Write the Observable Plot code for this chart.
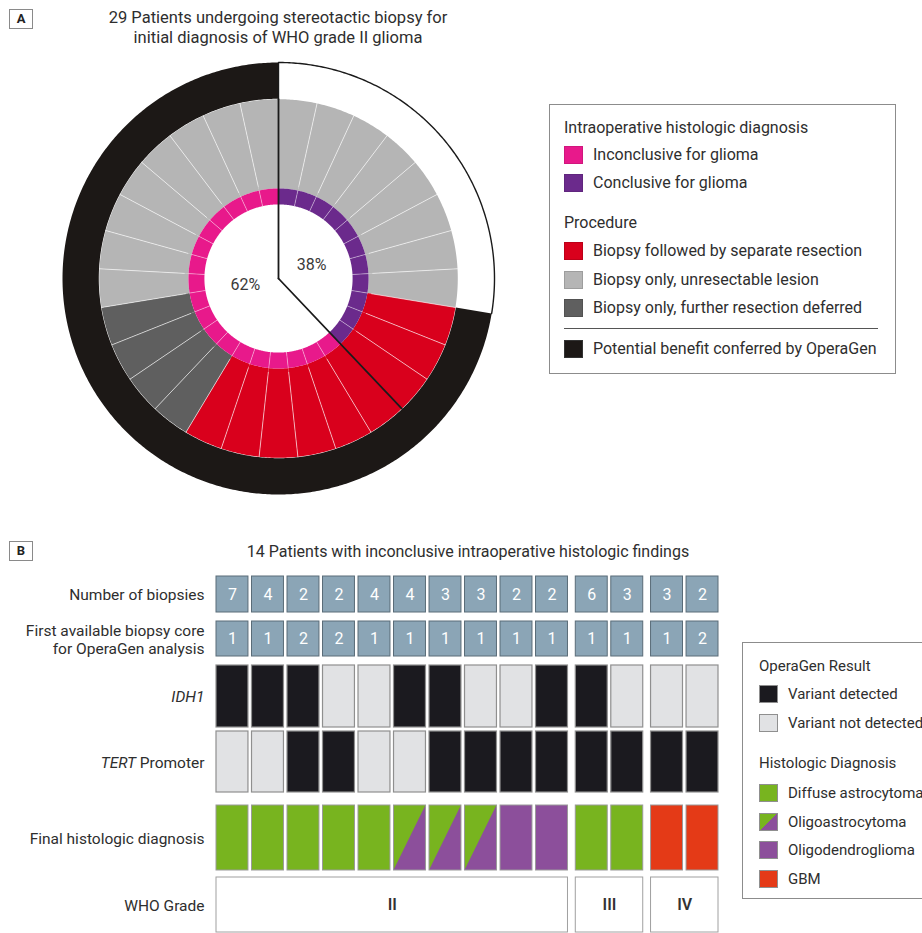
<!DOCTYPE html>
<html><head><meta charset="utf-8">
<script src="https://cdn.jsdelivr.net/npm/d3@7"></script>
<script src="https://cdn.jsdelivr.net/npm/@observablehq/plot@0.6"></script>
<style>
body{margin:0;background:#fff;font-family:Roboto,"Open Sans",sans-serif;color:#2e2e2e}
#page{position:relative;width:922px;height:933px;overflow:hidden;background:#fff}
.abs{position:absolute}
.tag{position:absolute;width:22px;height:18px;border:1px solid #8a8a8a;font:bold 13px Roboto,sans-serif;text-align:center;line-height:18px;color:#222}
.title{position:absolute;text-align:center;line-height:20px;color:#2e2e2e}
.legend{position:absolute;border:1px solid #8c8c8c;background:#fff}
.li{position:absolute;line-height:20px;height:20px;white-space:nowrap;color:#2e2e2e}
#legendA .li{font-size:16px}
#legendB .li{font-size:15px}
.sw{position:absolute;width:19px;height:18px;box-sizing:border-box}
.rule{position:absolute;height:0;border-top:1.5px solid #555}
</style>
</head><body>
<div id="page">
  <div class="tag" style="left:9px;top:9px">A</div>
  <div class="title" style="left:0;width:556px;top:8px;font-size:16.5px">29 Patients undergoing stereotactic biopsy for<br>initial diagnosis of WHO grade II glioma</div>
  <div id="chartA" class="abs" style="left:0;top:50px"></div>
  <div id="legendA" class="legend" style="left:549px;top:104px;width:345px;height:268px"></div>
  <div class="tag" style="left:9px;top:541px">B</div>
  <div class="title" style="left:168px;width:600px;top:542px;font-size:16px">14 Patients with inconclusive intraoperative histologic findings</div>
  <div id="chartB" class="abs" style="left:0;top:570px"></div>
  <div id="legendB" class="legend" style="left:742px;top:642px;width:220px;height:255px"></div>
</div>
<script>
// ---------------- Panel A data (29 patients, clockwise from 12 o'clock) ----------------
const intraop = ["C","C","C","C","C","C","C","C","C","C","C",
                 "I","I","I","I","I","I","I","I","I","I","I","I","I","I","I","I","I","I"];
const procedure = ["U","U","U","U","U","U","U","U",
                   "R","R","R","R","R","R","R","R","R",
                   "D","D","D","D",
                   "U","U","U","U","U","U","U","U"];
const benefit = [0,0,0,0,0,0,0,0,
                 1,1,1,1,1,1,1,1,1,1,1,1,1,1,1,1,1,1,1,1,1];

const intraopCats = ["I","C"];
const intraopLabels = ["Inconclusive for glioma","Conclusive for glioma"];
const intraopColors = ["#e8198b","#6b2a8c"];
const procCats = ["R","U","D"];
const procLabels = ["Biopsy followed by separate resection","Biopsy only, unresectable lesion","Biopsy only, further resection deferred"];
const procColors = ["#d9001c","#b5b5b5","#5f5f5f"];
const benefitLabel = "Potential benefit conferred by OperaGen";
const benefitColor = "#1c1816";

// ---------------- Panel B data (14 patients) ----------------
const biopsies  = [7,4,2,2,4,4,3,3,2,2,6,3,3,2];
const firstCore = [1,1,2,2,1,1,1,1,1,1,1,1,1,2];
const idh1      = [1,1,1,0,0,1,1,0,0,1,1,0,0,0];
const tert      = [0,0,1,1,0,0,1,1,1,1,1,1,1,1];
const diagnosis = ["DA","DA","DA","DA","DA","OA","OA","OA","OD","OD","DA","DA","GBM","GBM"];
const grade     = ["II","II","II","II","II","II","II","II","II","II","III","III","IV","IV"];

const gradeOrder = ["II","III","IV"];
const resultLabels = ["Variant detected","Variant not detected"];
const resultColors = ["#1b1a1f","#e1e2e4"];
const dxCats = ["DA","OA","OD","GBM"];
const dxLabels = ["Diffuse astrocytoma","Oligoastrocytoma","Oligodendroglioma","GBM"];
const dxColors = ["#78b41f","#78b41f","#8c4f9b","#e43a17"];
const oaSecond = "#8c4f9b";
const rowLabels = ["Number of biopsies","First available biopsy core\nfor OperaGen analysis","IDH1","TERT Promoter","Final histologic diagnosis","WHO Grade"];

// ---------------- Panel A layout ----------------
const N = procedure.length;
const step = 2 * Math.PI / N;
const RAD = {ringIn: 0.343, ringOut: 0.417, wedgeIn: 0.417, wedgeOut: 0.83, benIn: 0.832, benOut: 1};
const pt = (a, r) => [r * Math.sin(a), r * Math.cos(a)];
function arcPts(a0, a1, r) {
  const n = Math.max(2, Math.ceil(Math.abs(a1 - a0) / 0.01));
  return d3.range(n + 1).map(i => pt(a0 + (a1 - a0) * i / n, r));
}
function sector(a0, a1, r0, r1) {
  const ring = [...arcPts(a0, a1, r1), ...arcPts(a0, a1, r0).reverse()];
  ring.push(ring[0]);
  return {type: "Polygon", coordinates: [ring.reverse()]};
}
function runs(arr) {
  const out = [];
  arr.forEach((v, i) => {
    if (out.length && out[out.length - 1].value === v) out[out.length - 1].end = i + 1;
    else out.push({value: v, start: i, end: i + 1});
  });
  return out;
}
const idx = d3.range(N);
const wedges = idx.map(i => ({cat: "P" + procedure[i], geom: sector(i * step, (i + 1) * step, RAD.wedgeIn, RAD.wedgeOut)}));
const ringSegs = idx.map(i => ({cat: "I" + intraop[i], geom: sector(i * step, (i + 1) * step, RAD.ringIn, RAD.ringOut)}));
const benRuns = runs(benefit);
const benSegs = benRuns.filter(r => r.value === 1).map(r => ({cat: "B", geom: sector(r.start * step, r.end * step, RAD.benIn, RAD.benOut)}));
const wedgeSeps = idx.map(i => ({type: "LineString", coordinates: [pt(i * step, RAD.wedgeIn + 0.02), pt(i * step, RAD.wedgeOut)]}));
const ringSeps = idx.map(i => ({type: "LineString", coordinates: [pt(i * step, RAD.ringIn), pt(i * step, RAD.ringOut)]}));
const ioRuns = runs(intraop);
const dividers = ioRuns.map(r => ({type: "LineString", coordinates: [[0, 0], pt(r.start * step, RAD.wedgeOut)]}));
const outlines = benRuns.filter(r => r.value === 0).map(r => ({type: "LineString",
  coordinates: [pt(r.start * step, RAD.wedgeOut), ...arcPts(r.start * step, r.end * step, RAD.benOut)]}));
const pctLabels = ioRuns.map(r => {
  const mid = (r.start + r.end) / 2 * step;
  const [x, y] = pt(mid, 0.165);
  return {x, y: y + (r.value === "I" ? 0.03 : 0), text: Math.round((r.end - r.start) / N * 100) + "%"};
});

const plotA = Plot.plot({
  width: 556, height: 450,
  marginTop: 12, marginBottom: 6, marginLeft: 62, marginRight: 62,
  projection: {type: "reflect-y", domain: {type: "MultiPoint", coordinates: [[-1, -1], [1, 1]]}},
  color: {domain: [...procCats.map(c => "P" + c), ...intraopCats.map(c => "I" + c), "B"],
          range: [...procColors, ...intraopColors, benefitColor]},
  style: {fontFamily: "Roboto, sans-serif", fontSize: "15px", background: "transparent", overflow: "visible"},
  marks: [
    Plot.geo(benSegs, {geometry: d => d.geom, fill: d => d.cat, stroke: "none"}),
    Plot.geo(wedges, {geometry: d => d.geom, fill: d => d.cat, stroke: "none"}),
    Plot.geo(ringSegs, {geometry: d => d.geom, fill: d => d.cat, stroke: "none"}),
    Plot.geo(wedgeSeps, {stroke: "white", strokeOpacity: 0.6, strokeWidth: 1}),
    Plot.geo(ringSeps, {stroke: "white", strokeOpacity: 0.4, strokeWidth: 1}),
    Plot.geo(outlines, {stroke: "#1a1a1a", strokeWidth: 1.4, fill: "none"}),
    Plot.geo(dividers, {stroke: "#1a1a1a", strokeWidth: 1.8, fill: "none"}),
    Plot.text(pctLabels, {x: "x", y: "y", text: "text", fill: "#3a3a3a", fontSize: 16})
  ]
});
document.getElementById("chartA").append(plotA);

// ---------------- Panel B layout ----------------
const M = biopsies.length;
const GAP = 0.1, GROUP_GAP = 0.12;
const gIdx = grade.map(g => gradeOrder.indexOf(g));
const colX = i => i + gIdx[i] * GROUP_GAP;
const xMax = colX(M - 1) + 1 - GAP;
const rowSize = [36, 35, 62, 61, 65, 55];
const rowGapBefore = [6, 9, 9, 4, 13, 7];
const rows = [];
{ let y = 0; rowSize.forEach((h, k) => { y += rowGapBefore[k]; rows.push({top: y, bottom: y + h, mid: y + h / 2, label: rowLabels[k]}); y += h; }); }
const totalH = 363;
const pB = d3.range(M).map(i => ({i, x1: colX(i), x2: colX(i) + 1 - GAP, xm: colX(i) + (1 - GAP) / 2}));

const numCells = [0, 1].flatMap(k => pB.map(p => ({...p, r: rows[k], v: k === 0 ? biopsies[p.i] : firstCore[p.i]})));
const genoCells = [2, 3].flatMap(k => pB.map(p => ({...p, r: rows[k], v: (k === 2 ? idh1 : tert)[p.i] ? "Variant detected" : "Variant not detected"})));
const dxCells = pB.map(p => ({...p, r: rows[4], v: diagnosis[p.i]}));
const oaTri = dxCells.filter(d => d.v === "OA").flatMap(d => [
  {z: d.i, x: d.x1, y1: d.r.bottom, y2: d.r.bottom},
  {z: d.i, x: d.x2, y1: d.r.bottom, y2: d.r.top}
]);
const gradeBoxes = gradeOrder.map(g => {
  const ii = d3.range(M).filter(i => grade[i] === g);
  const x1 = colX(ii[0]), x2 = colX(ii[ii.length - 1]) + 1 - GAP;
  return {g, x1, x2, xm: (x1 + x2) / 2, r: rows[5]};
});

const plotB = Plot.plot({
  width: 740, height: totalH,
  marginLeft: 216, marginRight: 22, marginTop: 0, marginBottom: 0,
  x: {domain: [0, xMax], axis: null},
  y: {domain: [0, totalH], range: [0, totalH], axis: null},
  color: {domain: [...resultLabels, ...dxCats], range: [...resultColors, ...dxColors]},
  style: {fontFamily: "Roboto, sans-serif", fontSize: "15px", background: "transparent", overflow: "visible"},
  marks: [
    Plot.rect(numCells, {x1: "x1", x2: "x2", y1: d => d.r.top, y2: d => d.r.bottom, fill: "#8ba5b6", stroke: "#5a6c78", strokeWidth: 1}),
    Plot.text(numCells, {x: "xm", y: d => d.r.mid, text: "v", fill: "white", fontSize: 16}),
    Plot.rect(genoCells, {x1: "x1", x2: "x2", y1: d => d.r.top, y2: d => d.r.bottom, fill: "v", stroke: "#8f8f8f", strokeWidth: 1.2}),
    Plot.rect(dxCells, {x1: "x1", x2: "x2", y1: d => d.r.top, y2: d => d.r.bottom, fill: "v"}),
    Plot.areaY(oaTri, {x: "x", y1: "y1", y2: "y2", z: "z", fill: oaSecond}),
    Plot.rect(dxCells, {x1: "x1", x2: "x2", y1: d => d.r.top, y2: d => d.r.bottom, fill: "none", stroke: "#9a9a9a", strokeWidth: 1}),
    Plot.rect(gradeBoxes, {x1: "x1", x2: "x2", y1: d => d.r.top, y2: d => d.r.bottom, fill: "white", stroke: "#a0a0a0", strokeWidth: 1}),
    Plot.text(gradeBoxes, {x: "xm", y: d => d.r.mid, text: "g", fill: "#333", fontSize: 16, fontWeight: 600}),
    Plot.text(rows, {x: 0, dx: -12, y: "mid", text: "label", textAnchor: "end", fill: "#2e2e2e", fontSize: 15.5, lineHeight: 1.16})
  ]
});
d3.select(plotB).selectAll("text").each(function() {
  const t = d3.select(this);
  if (this.textContent === "IDH1") t.style("font-style", "italic");
  if (this.textContent === "TERT Promoter") {
    t.text(null);
    t.append("tspan").style("font-style", "italic").text("TERT");
    t.append("tspan").text(" Promoter");
  }
});
document.getElementById("chartB").append(plotB);

// ---------------- Legends ----------------
function buildLegend(el, items) {
  items.forEach(it => {
    if (it.type === "head") {
      const d = document.createElement("div"); d.className = "li";
      d.style.left = it.x + "px"; d.style.top = (it.y - 10) + "px"; d.textContent = it.text; el.append(d);
    } else if (it.type === "rule") {
      const d = document.createElement("div"); d.className = "rule";
      d.style.left = it.x + "px"; d.style.width = it.w + "px"; d.style.top = it.y + "px"; el.append(d);
    } else {
      const s = document.createElement("div"); s.className = "sw";
      s.style.left = it.sx + "px"; s.style.top = (it.y - 9) + "px";
      s.style.background = it.bg; s.style.border = "1px solid " + (it.border || "transparent");
      el.append(s);
      const d = document.createElement("div"); d.className = "li";
      d.style.left = it.tx + "px"; d.style.top = (it.y - 10) + "px"; d.textContent = it.text; el.append(d);
    }
  });
}
buildLegend(document.getElementById("legendA"), [
  {type: "head", x: 14, y: 23, text: "Intraoperative histologic diagnosis"},
  ...intraopLabels.map((t, k) => ({sx: 14, tx: 43, y: 50 + 28 * k, text: t, bg: intraopColors[k], border: d3.color(intraopColors[k]).darker(0.3)})),
  {type: "head", x: 14, y: 118, text: "Procedure"},
  ...procLabels.map((t, k) => ({sx: 14, tx: 43, y: 146 + 28.5 * k, text: t, bg: procColors[k], border: d3.color(procColors[k]).darker(0.4)})),
  {type: "rule", x: 14, w: 314, y: 223},
  {sx: 14, tx: 43, y: 244, text: benefitLabel, bg: benefitColor, border: "#333"}
]);
buildLegend(document.getElementById("legendB"), [
  {type: "head", x: 16, y: 23, text: "OperaGen Result"},
  ...resultLabels.map((t, k) => ({sx: 16, tx: 45, y: 51 + 29 * k, text: t, bg: resultColors[k], border: "#8f8f8f"})),
  {type: "head", x: 16, y: 120, text: "Histologic Diagnosis"},
  ...dxLabels.map((t, k) => ({sx: 16, tx: 45, y: 150 + 28.5 * k, text: t,
     bg: dxCats[k] === "OA" ? `linear-gradient(to bottom right, ${dxColors[k]} 50%, ${oaSecond} 50%)` : dxColors[k], border: "#8f8f8f"}))
]);
</script>
</body></html>
